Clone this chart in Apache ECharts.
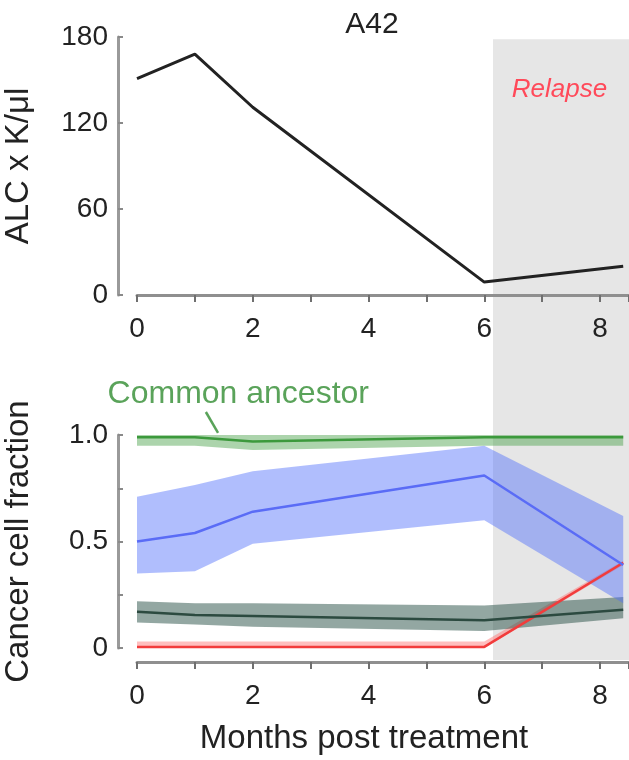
<!DOCTYPE html>
<html lang="en" style="height: 100%">
<head>
  <meta charset="utf-8">
</head>
<body style="height: 100%; margin: 0; background: #fff">
  <div id="container" style="width: 629px; height: 760px"></div>

  <script type="text/javascript" src="https://cdn.jsdelivr.net/npm/echarts@6/dist/echarts.min.js"></script>
  <script type="text/javascript">
    // months at which samples were taken
    var months = [0, 1, 2, 6, 8.4];
    // absolute lymphocyte count (K/ul)
    var alc = [151, 168, 131, 9, 20];

    // cancer cell fractions, line + confidence band
    var ancestor = [0.99, 0.99, 0.97, 0.99, 0.99];
    var ancestorLo = [0.95, 0.95, 0.93, 0.95, 0.95];
    var ancestorHi = [1.0, 1.0, 1.0, 1.0, 1.0];

    var blueClone = [0.50, 0.54, 0.64, 0.81, 0.39];
    var blueLo = [0.35, 0.36, 0.49, 0.60, 0.21];
    var blueHi = [0.71, 0.765, 0.83, 0.95, 0.62];

    var darkClone = [0.17, 0.155, 0.15, 0.13, 0.18];
    var darkLo = [0.12, 0.11, 0.10, 0.08, 0.14];
    var darkHi = [0.22, 0.21, 0.21, 0.20, 0.24];

    var redClone = [0.005, 0.005, 0.005, 0.005, 0.40];
    var redLo = [0, 0, 0, 0, 0.39];
    var redHi = [0.03, 0.03, 0.03, 0.03, 0.41];

    var relapseStart = 6.15;
    var xTicks = [0, 2, 4, 6, 8];

    var FONT = 'Liberation Sans';

    function pts(ys) {
      return months.map(function (m, i) { return [m, ys[i]]; });
    }

    // shaded band drawn as one polygon through the axis scales
    function band(lo, hi, fill) {
      return {
        type: 'custom', xAxisIndex: 1, yAxisIndex: 1, silent: true, clip: false,
        data: months.map(function (m, i) { return [m, lo[i], hi[i]]; }),
        encode: { x: 0, y: [1, 2] },
        renderItem: function (params, api) {
          if (params.dataIndex !== 0) return null;
          var upper = [], lower = [];
          for (var i = 0; i < months.length; i++) {
            upper.push(api.coord([months[i], hi[i]]));
            lower.unshift(api.coord([months[i], lo[i]]));
          }
          return {
            type: 'polygon',
            shape: { points: upper.concat(lower) },
            style: { fill: fill }
          };
        }
      };
    }

    function clone(ys, color) {
      return {
        type: 'line', xAxisIndex: 1, yAxisIndex: 1,
        data: pts(ys), symbol: 'none', clip: false,
        lineStyle: { color: color, width: 2.5 }
      };
    }

    var xAxisBase = {
      type: 'value', min: 0, max: 8.5, interval: 1,
      axisLine: { onZero: false, lineStyle: { color: '#8f8f8f', width: 3 } },
      axisTick: { length: 7, lineStyle: { color: '#6f6f6f', width: 2 } },
      splitLine: { show: false },
      axisLabel: {
        margin: 20, color: '#222', fontSize: 28, fontFamily: FONT,
        formatter: function (v) { return xTicks.indexOf(v) >= 0 ? String(v) : ''; }
      }
    };

    var yAxisStyle = {
      axisLine: { show: true, onZero: false, lineStyle: { color: '#9a9a9a', width: 3 } },
      axisTick: { show: true, inside: true, length: 5, lineStyle: { color: '#8a8a8a', width: 2 } },
      splitLine: { show: false },
      nameLocation: 'middle',
      nameTextStyle: { color: '#222', fontSize: 33, fontFamily: FONT }
    };

    var dom = document.getElementById('container');
    var myChart = echarts.init(dom, null, { renderer: 'canvas' });

    var series = [
      {
        type: 'line', xAxisIndex: 0, yAxisIndex: 0, data: pts(alc),
        symbol: 'none', lineStyle: { color: '#222', width: 3 }
      },
      clone(redClone, '#f23c3c'),
      band(redLo, redHi, 'rgba(255, 110, 110, 0.45)'),
      band(ancestorLo, ancestorHi, 'rgba(70, 160, 70, 0.45)'),
      clone(ancestor, '#3c993c'),
      band(darkLo, darkHi, 'rgba(40, 80, 70, 0.5)'),
      clone(darkClone, '#2c4a40'),
      band(blueLo, blueHi, 'rgba(80, 110, 250, 0.45)'),
      clone(blueClone, '#5a6cf6')
    ];

    myChart.setOption({
      animation: false,
      title: {
        text: 'A42', left: 367, top: 5, textAlign: 'center',
        textStyle: { color: '#222', fontSize: 30, fontWeight: 'normal', fontFamily: FONT }
      },
      grid: [
        { left: 137, right: 0, top: 37, height: 258, outerBoundsMode: 'none' },
        { left: 137, right: 0, top: 435, height: 213, outerBoundsMode: 'none' }
      ],
      xAxis: [
        Object.assign({ gridIndex: 0 }, xAxisBase),
        Object.assign({ gridIndex: 1, offset: 14, name: 'Months post treatment',
          nameLocation: 'middle', nameGap: 60,
          nameTextStyle: { color: '#222', fontSize: 33, fontFamily: FONT, padding: [0, 38, 0, 0] } }, xAxisBase)
      ],
      yAxis: [
        Object.assign({
          gridIndex: 0, type: 'value', min: 0, max: 180, interval: 60, offset: 19,
          name: 'ALC x K/\u03bcl', nameGap: 83,
          axisLabel: { margin: 10, color: '#222', fontSize: 28, fontFamily: FONT }
        }, yAxisStyle),
        Object.assign({
          gridIndex: 1, type: 'value', min: 0, max: 1, interval: 0.25, offset: 19,
          name: 'Cancer cell fraction', nameGap: 83,
          axisLabel: {
            margin: 10, color: '#222', fontSize: 28, fontFamily: FONT,
            formatter: function (v) {
              if (v === 0) return '0';
              if (v === 0.5) return '0.5';
              if (v === 1) return '1.0';
              return '';
            }
          }
        }, yAxisStyle)
      ],
      series: series
    });

    // relapse shading and annotations, placed through the axes
    var topLeft = myChart.convertToPixel({ gridIndex: 0 }, [relapseStart, 178.5]);
    var bottomRight = myChart.convertToPixel({ gridIndex: 1 }, [8.5, -0.056]);
    var relapsePos = myChart.convertToPixel({ gridIndex: 0 }, [7.3, 143]);
    var ancText = myChart.convertToPixel({ gridIndex: 1 }, [1.75, 1.19]);
    var ptrA = myChart.convertToPixel({ gridIndex: 1 }, [1.19, 1.108]);
    var ptrB = myChart.convertToPixel({ gridIndex: 1 }, [1.40, 1.01]);

    myChart.setOption({
      graphic: [
        {
          type: 'rect', z: -10, silent: true,
          shape: { x: topLeft[0], y: topLeft[1], width: bottomRight[0] - topLeft[0], height: bottomRight[1] - topLeft[1] },
          style: { fill: '#e6e6e6' }
        },
        {
          type: 'text', x: relapsePos[0], y: relapsePos[1], z: 10,
          style: {
            text: 'Relapse', fill: '#ff4a5a', fontSize: 26, fontStyle: 'italic',
            fontFamily: FONT, align: 'center', verticalAlign: 'middle'
          }
        },
        {
          type: 'text', x: ancText[0], y: ancText[1], z: 10,
          style: {
            text: 'Common ancestor', fill: '#5aa35a', fontSize: 32,
            fontFamily: FONT, align: 'center', verticalAlign: 'middle'
          }
        },
        {
          type: 'line', z: 10,
          shape: { x1: ptrA[0], y1: ptrA[1], x2: ptrB[0], y2: ptrB[1] },
          style: { stroke: '#5aa35a', lineWidth: 2.5 }
        }
      ]
    });

    window.addEventListener('resize', myChart.resize);
  </script>
</body>
</html>
